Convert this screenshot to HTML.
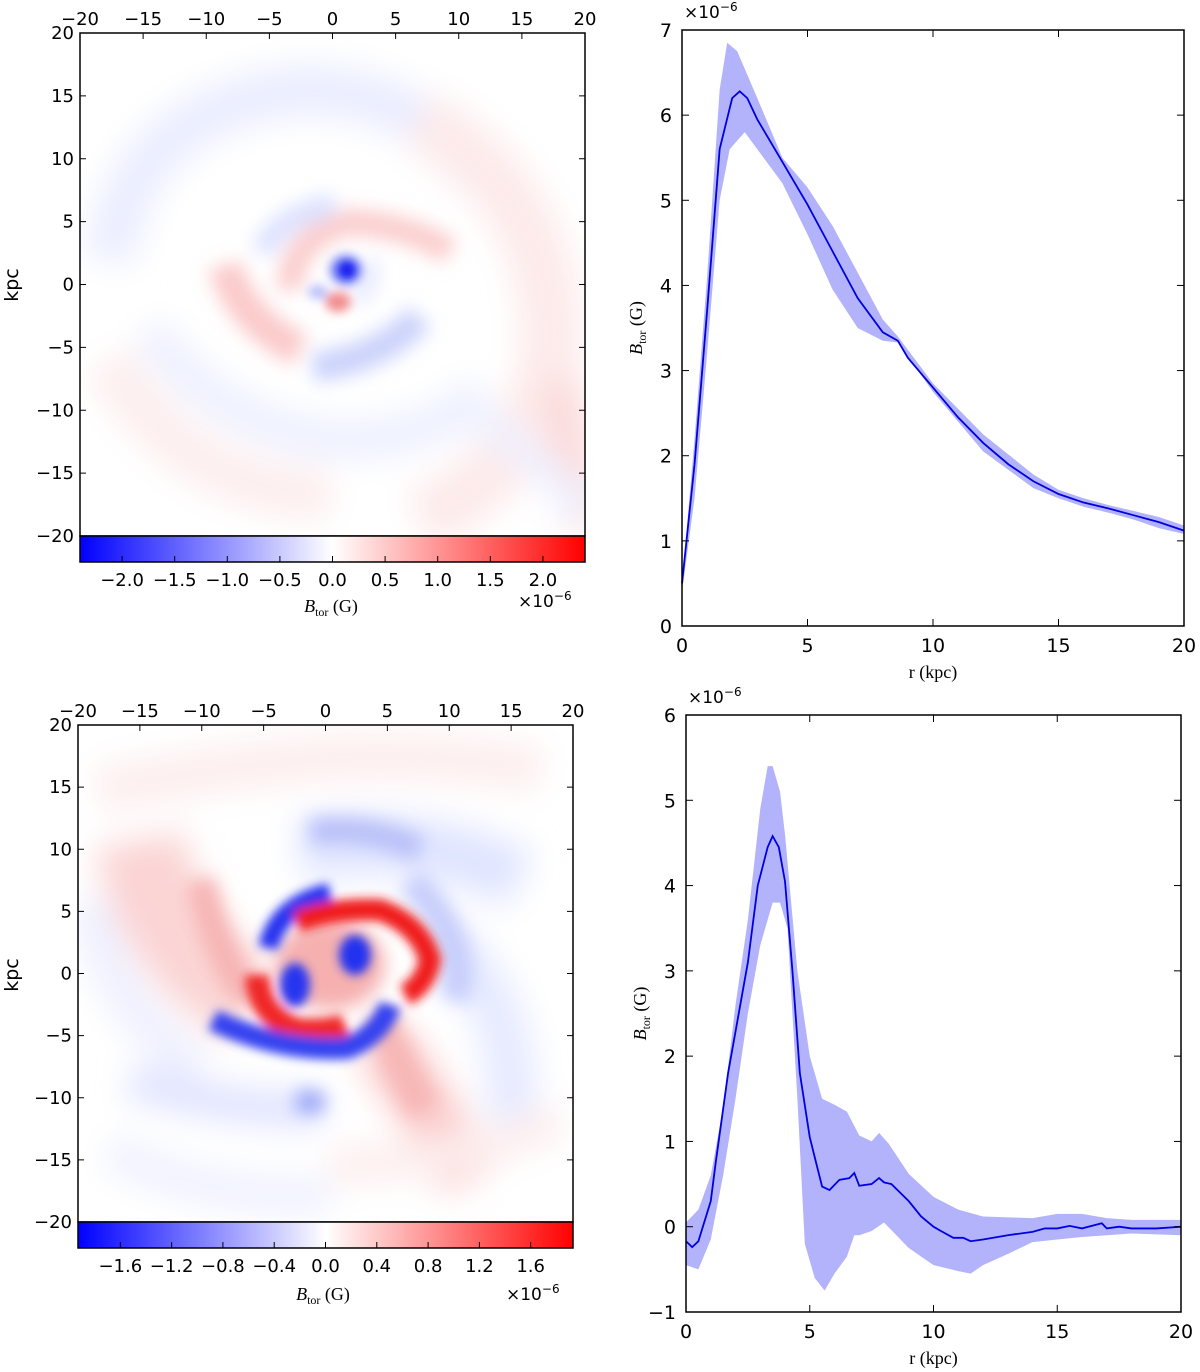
<!DOCTYPE html>
<html><head><meta charset="utf-8"><style>
body{margin:0;background:#fff;}
svg{display:block;font-family:"DejaVu Sans","Liberation Sans",sans-serif;}
.serif{font-family:"Liberation Serif","DejaVu Serif",serif;}
</style></head><body>
<svg id="fig" width="1200" height="1372" viewBox="0 0 1200 1372">
<defs>
<linearGradient id="bwr" x1="0" x2="1" y1="0" y2="0">
<stop offset="0" stop-color="#0000ff"/><stop offset="0.5" stop-color="#ffffff"/><stop offset="1" stop-color="#ff0000"/>
</linearGradient>
<filter id="blur8" x="-50%" y="-50%" width="200%" height="200%"><feGaussianBlur stdDeviation="9"/></filter>
<filter id="blur5" x="-50%" y="-50%" width="200%" height="200%"><feGaussianBlur stdDeviation="5"/></filter>
<filter id="blur3" x="-50%" y="-50%" width="200%" height="200%"><feGaussianBlur stdDeviation="3.5"/></filter>
<filter id="blur14" x="-50%" y="-50%" width="200%" height="200%"><feGaussianBlur stdDeviation="16"/></filter>
<clipPath id="c1"><rect x="80" y="33" width="505" height="503"/></clipPath>
<clipPath id="c2"><rect x="78" y="725" width="495" height="497"/></clipPath>
</defs>

<!-- Top-left heatmap -->
<g clip-path="url(#c1)">
<rect x="80" y="33" width="505" height="503" fill="#fff"/>
<g filter="url(#blur14)">
<path d="M110 260 Q130 110 300 90 Q420 90 480 180" stroke="#eaedff" stroke-width="50" fill="none"/>
<path d="M420 120 Q560 200 550 360 Q530 470 420 520" stroke="#fdeaea" stroke-width="60" fill="none"/>
<path d="M560 380 L585 530" stroke="#fbdada" stroke-width="40" fill="none"/>
<path d="M110 360 Q180 490 330 495" stroke="#fdeeee" stroke-width="50" fill="none"/>
<path d="M150 330 Q220 430 340 440 Q440 440 480 390" stroke="#eceffe" stroke-width="36" fill="none"/>
<path d="M480 420 Q560 470 585 520" stroke="#eef0ff" stroke-width="30" fill="none"/>
</g>
<g filter="url(#blur8)">
<path d="M225 265 Q240 320 300 350" stroke="#fbcaca" stroke-width="34" fill="none"/>
<path d="M290 290 Q290 240 347 222 Q410 225 450 252" stroke="#fbcdcd" stroke-width="26" fill="none"/>
<path d="M262 252 Q280 215 335 205" stroke="#dde2ff" stroke-width="24" fill="none"/>
<path d="M313 367 Q380 360 420 317" stroke="#ccd3fb" stroke-width="30" fill="none"/>
<path d="M355 300 Q375 285 370 260" stroke="#e4e8fe" stroke-width="16" fill="none"/>
</g>
<g filter="url(#blur5)">
<ellipse cx="346" cy="270" rx="16" ry="15" fill="#6d78f3"/>
<ellipse cx="338" cy="302" rx="13" ry="10" fill="#f28c8c"/>
<ellipse cx="318" cy="292" rx="10" ry="7" fill="#b6befb"/>
</g>
<g filter="url(#blur3)"><ellipse cx="347" cy="270" rx="8" ry="8" fill="#1a22f0"/></g>
</g>
<rect x="80" y="33" width="505" height="503" fill="none" stroke="#000" stroke-width="1.5"/>
<rect x="80" y="536" width="505" height="26" fill="url(#bwr)" stroke="#000" stroke-width="1.5"/>
<g id="hm1axes" font-size="18"></g>
<text x="331" y="612" text-anchor="middle" font-size="18" class="serif"><tspan font-style="italic">B</tspan><tspan font-size="12" dy="4">tor</tspan><tspan dy="-4"> (G)</tspan></text>
<text x="518" y="607" font-size="17">×10<tspan font-size="12" dy="-7">−6</tspan></text>
<text x="18" y="285" font-size="19" text-anchor="middle" transform="rotate(-90 18 285)">kpc</text>

<!-- Bottom-left heatmap -->
<g clip-path="url(#c2)">
<rect x="78" y="725" width="495" height="497" fill="#fff"/>
<g filter="url(#blur14)">
<path d="M100 790 Q200 770 300 760 Q420 750 540 770" stroke="#fdeeee" stroke-width="45" fill="none"/>
<path d="M140 840 Q160 950 250 1000" stroke="#fbd4d4" stroke-width="90" fill="none"/>
<path d="M90 900 Q110 1010 200 1070" stroke="#eef0fe" stroke-width="40" fill="none"/>
<path d="M300 850 Q420 830 520 880" stroke="#e0e5ff" stroke-width="60" fill="none"/>
<path d="M440 940 Q520 1000 510 1120" stroke="#e6eaff" stroke-width="50" fill="none"/>
<path d="M380 1040 Q430 1110 470 1180" stroke="#fbcccc" stroke-width="60" fill="none"/>
<path d="M330 1165 Q450 1165 560 1120" stroke="#fdeeee" stroke-width="36" fill="none"/>
<path d="M110 1150 Q200 1200 330 1195" stroke="#eff1ff" stroke-width="36" fill="none"/>
<path d="M130 1080 Q220 1110 320 1110" stroke="#dfe3ff" stroke-width="34" fill="none"/>
</g>
<g filter="url(#blur8)">
<path d="M310 832 Q370 825 420 850" stroke="#b8c0f8" stroke-width="26" fill="none"/>
<path d="M410 880 Q470 940 455 1000" stroke="#c6cdfb" stroke-width="30" fill="none"/>
<ellipse cx="310" cy="1102" rx="16" ry="12" fill="#97a3f6"/>
<path d="M200 880 Q215 950 250 1000" stroke="#f6b4b4" stroke-width="30" fill="none"/>
<path d="M380 1015 Q400 1070 425 1110" stroke="#f7b6b6" stroke-width="32" fill="none"/>
<ellipse cx="330" cy="965" rx="55" ry="45" fill="#f6b0b0"/>
</g>
<g filter="url(#blur5)">
<path d="M268 948 Q278 905 330 893" stroke="#2633f0" stroke-width="20" fill="none"/>
<path d="M297 922 Q330 908 380 910 Q420 925 430 960 Q425 985 405 995" stroke="#f01c1c" stroke-width="22" fill="none"/>
<path d="M257 975 Q258 1015 297 1030 Q330 1032 345 1025" stroke="#f02626" stroke-width="24" fill="none"/>
<path d="M213 1020 Q280 1052 347 1048 Q380 1035 390 1005" stroke="#3442f0" stroke-width="22" fill="none"/>
<ellipse cx="295" cy="985" rx="15" ry="22" fill="#2836ef"/>
<ellipse cx="355" cy="955" rx="16" ry="20" fill="#2232ef"/>
</g>
</g>
<rect x="78" y="725" width="495" height="497" fill="none" stroke="#000" stroke-width="1.5"/>
<rect x="78" y="1222" width="495" height="26" fill="url(#bwr)" stroke="#000" stroke-width="1.5"/>
<g id="hm2axes" font-size="18"></g>
<text x="323" y="1300" text-anchor="middle" font-size="18" class="serif"><tspan font-style="italic">B</tspan><tspan font-size="12" dy="4">tor</tspan><tspan dy="-4"> (G)</tspan></text>
<text x="506" y="1300" font-size="17">×10<tspan font-size="12" dy="-7">−6</tspan></text>
<text x="18" y="975" font-size="19" text-anchor="middle" transform="rotate(-90 18 975)">kpc</text>

<g id="lc1"></g>
<g id="lc2"></g>
</svg>
<script>
const NS="http://www.w3.org/2000/svg";
function mk(p,tag,attrs,txt){const e=document.createElementNS(NS,tag);for(const k in attrs)e.setAttribute(k,attrs[k]);if(txt!==undefined)e.textContent=txt;p.appendChild(e);return e;}

// ---- Heatmap axes ----
const hmTicks=[-20,-15,-10,-5,0,5,10,15,20];
const cb1Ticks=[-2.0,-1.5,-1.0,-0.5,0.0,0.5,1.0,1.5,2.0];
const cb1Range=[-2.4,2.4];
const cb2Ticks=[-1.6,-1.2,-0.8,-0.4,0.0,0.4,0.8,1.2,1.6];
const cb2Range=[-1.93,1.93];

function hmAxes(g,L,T,W,H,cbTicks,cbRange){
  const sx=v=>L+(v+20)/40*W, sy=v=>T+(20-v)/40*H;
  hmTicks.forEach(v=>{
    const x=sx(v);
    mk(g,'line',{x1:x,x2:x,y1:T,y2:T+6,stroke:'#000'});
    const t=mk(g,'text',{x:x,y:T-8,'text-anchor':'middle'},(v<0?'\u2212'+(-v):v));
    
    
    const y=sy(v);
    mk(g,'line',{x1:L,x2:L+6,y1:y,y2:y,stroke:'#000'});
    mk(g,'line',{x1:L+W,x2:L+W-6,y1:y,y2:y,stroke:'#000'});
    const t2=mk(g,'text',{x:L-6,y:y+6,'text-anchor':'end'},(v<0?'\u2212'+(-v):v));
    
    
  });
  const cx=v=>L+(v-cbRange[0])/(cbRange[1]-cbRange[0])*W;
  cbTicks.forEach(v=>{
    const x=cx(v);
    mk(g,'line',{x1:x,x2:x,y1:T+H+26,y2:T+H+20,stroke:'#000'});
    const s=v.toFixed(1);
    const t=mk(g,'text',{x:x,y:T+H+50,'text-anchor':'middle'},v<0?'\u2212'+s.slice(1):s);
    
    
  });
}
hmAxes(document.getElementById('hm1axes'),80,33,505,503,cb1Ticks,cb1Range);
hmAxes(document.getElementById('hm2axes'),78,725,495,497,cb2Ticks,cb2Range);

// ---- Line chart 1 data ----
const r1=[0,0.5,1,1.5,2,2.3,2.6,3,4,5,6,7,8,8.6,9,10,11,12,13,14,15,16,17,18,19,20];
const b1=[0.5,1.9,3.7,5.6,6.2,6.28,6.2,5.95,5.45,4.95,4.4,3.85,3.45,3.35,3.15,2.8,2.45,2.15,1.9,1.7,1.55,1.45,1.38,1.3,1.22,1.12];
const r1u=[0,0.5,1,1.5,1.8,2.2,3,4,5,6,7,8,8.6,10,12,14,15,16,17,18,19,20];
const up1=[0.5,2.2,4.1,6.3,6.85,6.75,6.2,5.5,5.15,4.7,4.15,3.6,3.4,2.85,2.25,1.78,1.6,1.5,1.42,1.35,1.28,1.18];
const r1l=[0,0.5,1,1.5,1.9,2.5,3,4,5,6,7,8,8.6,10,12,14,15,16,17,18,19,20];
const lo1=[0.4,1.5,3.2,5.0,5.6,5.8,5.6,5.2,4.6,3.95,3.5,3.35,3.33,2.75,2.05,1.62,1.5,1.4,1.33,1.25,1.15,1.08];
const yTicks1=[0,1,2,3,4,5,6,7];

// ---- Line chart 2 data ----
const r2=[0,0.25,0.5,1,1.2,1.7,2.5,2.9,3.3,3.5,3.75,4.0,4.3,4.6,5,5.3,5.5,5.8,6.2,6.6,6.8,7.0,7.5,7.8,8.0,8.3,9,9.5,10,10.3,10.8,11.2,11.5,12,13,14,14.5,15,15.5,16,16.8,17,17.5,18,19,20];
const b2=[-0.17,-0.24,-0.17,0.3,0.75,1.8,3.1,4.0,4.45,4.58,4.45,4.05,3.0,1.8,1.05,0.7,0.47,0.43,0.55,0.57,0.63,0.48,0.5,0.57,0.52,0.5,0.3,0.12,0.0,-0.05,-0.13,-0.13,-0.17,-0.15,-0.1,-0.06,-0.02,-0.02,0.01,-0.02,0.04,-0.02,0.0,-0.02,-0.02,0];
const r2u=[0,0.5,1,1.5,2,2.5,3,3.3,3.5,3.8,4,4.5,5,5.5,6,6.5,7,7.5,7.8,8.2,9,10,11,12,14,15,16,17,18,20];
const up2=[0.05,0.2,0.6,1.4,2.6,3.6,4.9,5.4,5.4,5.1,4.6,3.0,2.0,1.5,1.43,1.35,1.07,1.0,1.1,0.97,0.62,0.35,0.2,0.12,0.1,0.15,0.15,0.1,0.08,0.08];
const r2l=[0,0.5,1,1.5,2,2.5,3,3.5,3.8,4.1,4.5,4.8,5.2,5.6,6,6.5,6.8,7,7.5,8,9,10,11,11.5,12,13,14,15,16,17,18,20];
const lo2=[-0.45,-0.5,-0.15,0.6,1.5,2.5,3.3,3.8,3.8,3.5,1.5,-0.2,-0.6,-0.75,-0.55,-0.35,-0.1,-0.1,-0.05,0.05,-0.25,-0.45,-0.52,-0.55,-0.45,-0.32,-0.18,-0.15,-0.12,-0.1,-0.08,-0.1];
const yTicks2=[-1,0,1,2,3,4,5,6];
const xTicks=[0,5,10,15,20];

function lineChart(g,name,L,R,T,B,ymin,ymax,yTicks,rr,bb,ru,uu,rl,ll){
  const sx=v=>L+v/20*(R-L), sy=v=>B-(v-ymin)/(ymax-ymin)*(B-T);
  let d='M'+ru.map((r,i)=>sx(r)+','+sy(uu[i])).join(' L');
  for(let i=rl.length-1;i>=0;i--) d+=' L'+sx(rl[i])+','+sy(ll[i]);
  d+='Z';
  const band=mk(g,'path',{d:d,fill:'#b3b3fb',stroke:'none'});
  
  
  const line=mk(g,'path',{d:'M'+rr.map((r,i)=>sx(r)+','+sy(bb[i])).join(' L'),fill:'none',stroke:'#0000e0','stroke-width':1.8});
  
  
  mk(g,'rect',{x:L,y:T,width:R-L,height:B-T,fill:'none',stroke:'#000','stroke-width':1.5});
  xTicks.forEach(v=>{
    const x=sx(v);
    mk(g,'line',{x1:x,x2:x,y1:B,y2:B-7,stroke:'#000'});
    mk(g,'line',{x1:x,x2:x,y1:T,y2:T+7,stroke:'#000'});
    const t=mk(g,'text',{x:x,y:B+26,'text-anchor':'middle','font-size':19},String(v));
    
    
  });
  yTicks.forEach(v=>{
    const y=sy(v);
    mk(g,'line',{x1:L,x2:L+7,y1:y,y2:y,stroke:'#000'});
    mk(g,'line',{x1:R,x2:R-7,y1:y,y2:y,stroke:'#000'});
    const t=mk(g,'text',{x:L-10,y:y+7,'text-anchor':'end','font-size':19},v<0?'\u2212'+(-v):String(v));
    
    
  });
  const ex=mk(g,'text',{x:L+2,y:T-12,'font-size':17},'×10');
  mk(ex,'tspan',{'font-size':12,dy:-7},'−6');
  
  
  const xl=mk(g,'text',{x:(L+R)/2,y:B+52,'text-anchor':'middle','font-size':18,class:'serif'},'r (kpc)');
  
  
  const cy=(T+B)/2, cx=L-40;
  const yl=mk(g,'text',{x:cx,y:cy,'text-anchor':'middle','font-size':18,class:'serif',transform:'rotate(-90 '+cx+' '+cy+')'});
  mk(yl,'tspan',{'font-style':'italic'},'B');
  mk(yl,'tspan',{'font-size':12,dy:4},'tor');
  mk(yl,'tspan',{dy:-4},' (G)');
  
  
}
const g1=document.getElementById('lc1');


lineChart(g1,'profile-top',682,1184,30,626,0,7,yTicks1,r1,b1,r1u,up1,r1l,lo1);
const g2=document.getElementById('lc2');


lineChart(g2,'profile-bottom',686,1181,715,1312,-1,6,yTicks2,r2,b2,r2u,up2,r2l,lo2);
</script>
</body></html>
